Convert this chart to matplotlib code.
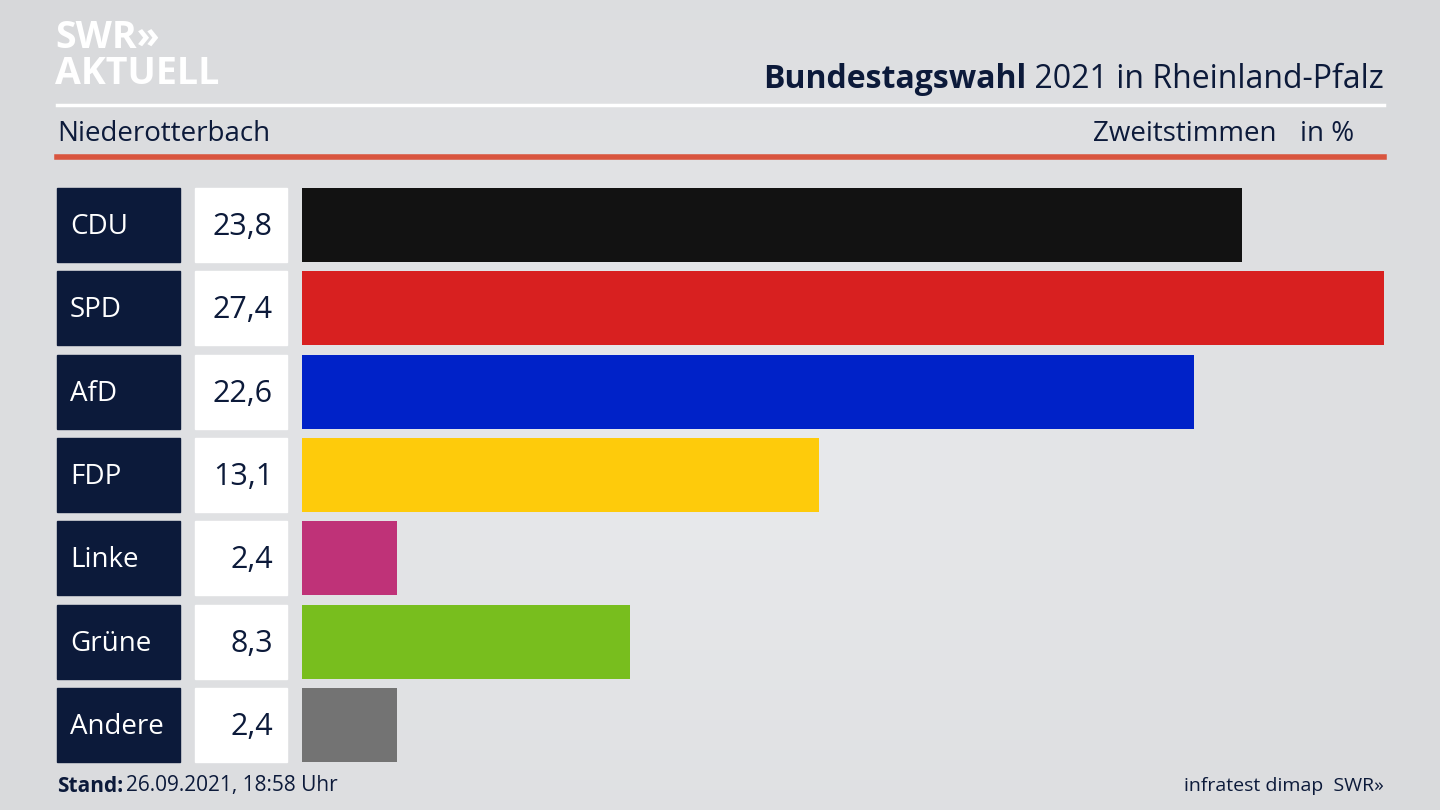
import matplotlib
matplotlib.use("Agg")
import matplotlib.pyplot as plt
import numpy as np
from matplotlib.patches import Rectangle

parties = ["CDU", "SPD", "AfD", "FDP", "Linke", "Grüne", "Andere"]
values = [23.8, 27.4, 22.6, 13.1, 2.4, 8.3, 2.4]
colors = ["#121212", "#d82020", "#0022c8", "#fecb0b", "#bf3278", "#78be1e", "#737373"]
value_labels = ["23,8", "27,4", "22,6", "13,1", "2,4", "8,3", "2,4"]

FONT = "Open Sans"
NAVY = "#0c1a3a"

fig = plt.figure(figsize=(14.4, 8.1), dpi=100)
bg = fig.add_axes([0, 0, 1, 1])
yy, xx = np.mgrid[0:81, 0:144]
r = np.sqrt(((xx - 72) / 110.0) ** 2 + ((yy - 45) / 70.0) ** 2)
img = 0.93 - 0.08 * r
bg.imshow(np.dstack([img * 0.985, img * 0.99, img * 1.0]).clip(0, 1), extent=[0, 1440, 810, 0], aspect="auto")
bg.set_xlim(0, 1440); bg.set_ylim(810, 0); bg.axis("off")

# header
bg.text(55, 38, "SWR»", fontsize=27, fontweight="bold", color="white", family=FONT, va="center")
bg.text(55, 74, "AKTUELL", fontsize=27, fontweight="bold", color="white", family=FONT, va="center")
t2 = bg.text(1384, 80, " 2021 in Rheinland-Pfalz", fontsize=23, color=NAVY, family=FONT, va="center", ha="right")
fig.canvas.draw()
bb = t2.get_window_extent()
bg.annotate("Bundestagswahl", xy=(bb.x0, 810 - 80), xycoords="figure pixels", fontsize=23, fontweight="bold",
            color=NAVY, family=FONT, va="center", ha="right")
bg.plot([57, 1384], [105, 105], color="white", lw=2.5)
bg.text(57, 134, "Niederotterbach", fontsize=20, color=NAVY, family=FONT, va="center")
bg.text(1276, 134, "Zweitstimmen", fontsize=20, color=NAVY, family=FONT, va="center", ha="right")
bg.text(1354, 134, "in %", fontsize=20, color=NAVY, family=FONT, va="center", ha="right")
bg.plot([57, 1384], [157, 157], color="#d9553f", lw=4)

# footer
bg.text(57, 786, "Stand:", fontsize=15, fontweight="bold", color=NAVY, family=FONT, va="center")
bg.text(126, 786, "26.09.2021, 18:58 Uhr", fontsize=15, color=NAVY, family=FONT, va="center")
bg.text(1384, 786, "infratest dimap  SWR»", fontsize=14, color=NAVY, family=FONT, va="center", ha="right")

# bars
top, bottom = 188, 762
ax = fig.add_axes([302 / 1440, (810 - bottom) / 810, 1082 / 1440, (bottom - top) / 810])
h = 0.888
ax.barh(range(len(parties)), values, height=h, color=colors)
ax.set_xlim(0, max(values))
ax.set_ylim(len(parties) - 1 + h / 2, -h / 2)
ax.axis("off")
ax.patch.set_alpha(0)

pitch = (bottom - top) / (len(parties) - 1 + h)
for i, (p, v) in enumerate(zip(parties, value_labels)):
    y0 = top + i * pitch
    bh = h * pitch
    bg.add_patch(Rectangle((57, y0), 123, bh, color=NAVY))
    bg.add_patch(Rectangle((195, y0), 92, bh, color="white"))
    bg.text(70, y0 + bh / 2 + 2, p, fontsize=20, color="white", family=FONT, va="center")
    bg.text(273, y0 + bh / 2 + 2, v, fontsize=22, color=NAVY, family=FONT, va="center", ha="right")

fig.savefig("out.png", dpi=100)
